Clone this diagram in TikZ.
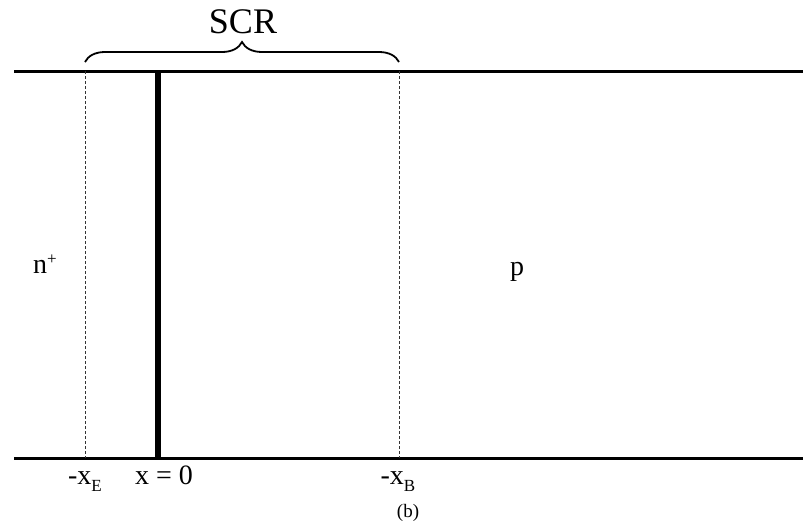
\documentclass[tikz,border=0pt]{standalone}
\usepackage{fontspec}
\setmainfont{Liberation Serif}
\usetikzlibrary{positioning, decorations.pathreplacing}

\newcommand{\lowsub}[1]{\raisebox{-7pt}{\fontsize{17}{18}\selectfont #1}}

\begin{document}
\begin{tikzpicture}[x=1pt, y=-1pt,
    wall/.style={line width=3pt},
    junction/.style={line width=5.5pt},
    edgeline/.style={dash pattern=on 3pt off 2pt, line width=1pt, black!80},
    lbl/.style={font=\fontsize{28}{30}\selectfont, inner sep=0pt, anchor=base}]
  \useasboundingbox (0,0) rectangle (803,525);
  % device boundaries
  \coordinate (tl) at (14,71);
  \coordinate (tr) at (803,71);
  \coordinate (bl) at (14,458);
  \coordinate (br) at (803,458);
  \coordinate (eTop) at (85,71);
  \coordinate (eBot) at (85,458);
  \coordinate (jTop) at (158,71);
  \coordinate (jBot) at (158,458);
  \coordinate (bTop) at (399,71);
  \coordinate (bBot) at (399,458);
  \draw[wall] (tl) -- (tr);
  \draw[wall] (bl) -- (br);
  \draw[edgeline] (eTop) -- (eBot);
  \draw[edgeline] (bTop) -- (bBot);
  \draw[junction] (jTop) -- (jBot);
  % space charge region
  \draw[decorate, decoration={brace, amplitude=20pt, raise=9pt}, line width=1.8pt]
    (eTop) -- (bTop);
  \node[lbl, font=\fontsize{36}{38}\selectfont] (scr) at (243,33) {SCR};
  % regions
  \node[lbl] (nplus) at (45,273) {n\raisebox{9pt}{\fontsize{17}{18}\selectfont +}};
  \node[lbl] (preg) at (517,275) {p};
  % positions
  \node[lbl] (xE) at (85,484) {-x\lowsub{E}};
  \node[lbl] (xzero) at (164,484) {x = 0};
  \node[lbl] (xB) at (398,484) {-x\lowsub{B}};
  \node[lbl, font=\fontsize{19}{22}\selectfont] (cap) at (408,517) {(b)};
\end{tikzpicture}
\end{document}
